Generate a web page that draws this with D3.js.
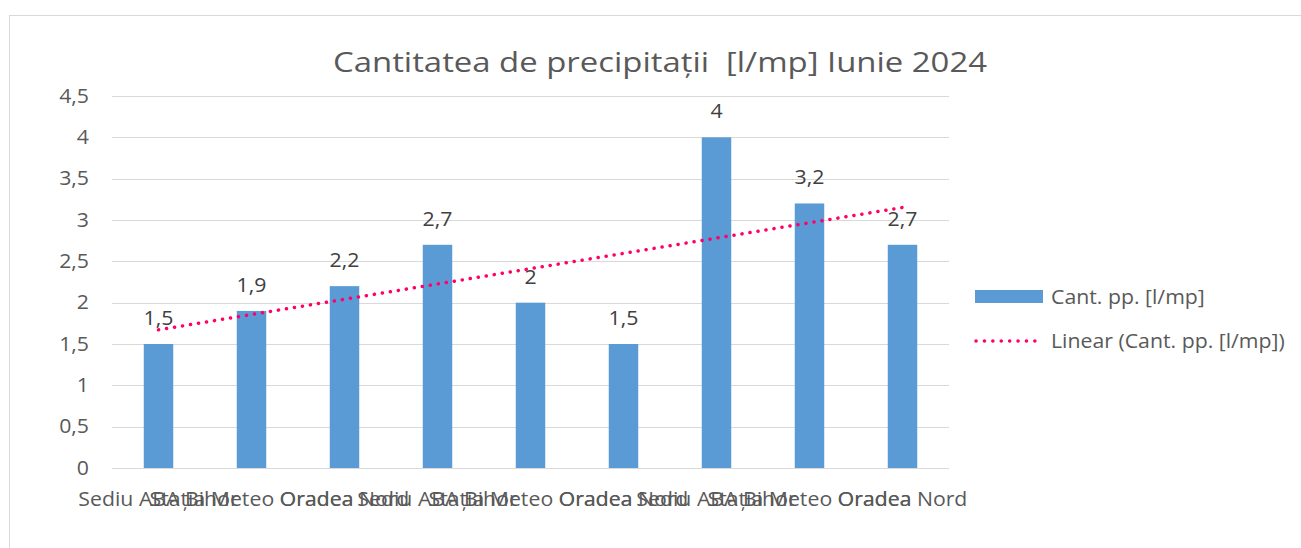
<!DOCTYPE html>
<html>
<head>
<meta charset="utf-8">
<script src="https://cdn.jsdelivr.net/npm/d3@7"></script>
<style>
  body { margin: 0; background: #fff; }
  text { font-family: "Open Sans", sans-serif; fill: #595959; white-space: pre; }
</style>
</head>
<body>
<div id="chart"></div>
<script>
var categories = ['Sediu ABA Bihor', 'Stația Meteo Oradea', 'Oradea Nord',
                  'Sediu ABA Bihor', 'Stația Meteo Oradea', 'Oradea Nord',
                  'Sediu ABA Bihor', 'Stația Meteo Oradea', 'Oradea Nord'];
var values = [1.5, 1.9, 2.2, 2.7, 2, 1.5, 4, 3.2, 2.7];
var yTicks = [0, 0.5, 1, 1.5, 2, 2.5, 3, 3.5, 4, 4.5];
var title = 'Cantitatea de precipitații  [l/mp] Iunie 2024';
var seriesName = 'Cant. pp. [l/mp]';
var trendName = 'Linear (Cant. pp. [l/mp])';

var WIDTH = 1301, HEIGHT = 548;
var BAR_COLOR = '#5B9BD5', TREND_COLOR = '#FF0066', GRID_COLOR = '#D9D9D9';
var FONT = '19.5px', STRETCH = 1.09;

var fmt = function(v){ return String(v).replace('.', ','); };

// the original font runs a bit wider than Open Sans
var widen = function(sel){
  sel.each(function(){
    var w = this.getComputedTextLength();
    d3.select(this).attr('textLength', w * STRETCH).attr('lengthAdjust', 'spacingAndGlyphs');
  });
};

var svg = d3.select('#chart').append('svg')
  .attr('width', WIDTH).attr('height', HEIGHT);

// chart frame
svg.append('rect')
  .attr('x', 9.5).attr('y', 15.5)
  .attr('width', WIDTH).attr('height', HEIGHT)
  .attr('fill', 'none').attr('stroke', GRID_COLOR);

var plot = {left: 112, right: 949, top: 96, bottom: 468};

var x = d3.scaleBand()
  .domain(d3.range(categories.length))
  .range([plot.left, plot.right])
  .paddingInner(0.683).paddingOuter(0.683 / 2);

var y = d3.scaleLinear().domain([0, 4.5]).range([plot.bottom, plot.top]);

// grid
svg.selectAll('.grid').data(yTicks).enter()
  .append('line')
  .attr('class', 'grid')
  .attr('x1', plot.left).attr('x2', plot.right)
  .attr('y1', function(d){ return Math.round(y(d)) + 0.5; })
  .attr('y2', function(d){ return Math.round(y(d)) + 0.5; })
  .attr('stroke', GRID_COLOR).attr('stroke-width', 1);

// y labels
svg.selectAll('.ylab').data(yTicks).enter()
  .append('text')
  .attr('class', 'ylab')
  .attr('x', 89).attr('y', function(d){ return y(d); })
  .attr('dy', '0.35em')
  .attr('text-anchor', 'end')
  .style('font-size', FONT)
  .text(fmt)
  .call(widen);

// bars
svg.selectAll('.bar').data(values).enter()
  .append('rect')
  .attr('class', 'bar')
  .attr('x', function(d, i){ return x(i); })
  .attr('width', x.bandwidth())
  .attr('y', function(d){ return y(d); })
  .attr('height', function(d){ return y(0) - y(d); })
  .attr('fill', BAR_COLOR);

// x labels (they overlap in the original too)
svg.selectAll('.xlab').data(categories).enter()
  .append('text')
  .attr('class', 'xlab')
  .attr('x', function(d, i){ return x(i) + x.bandwidth() / 2; })
  .attr('y', 506)
  .attr('text-anchor', 'middle')
  .style('font-size', FONT)
  .text(function(d){ return d; })
  .call(widen);

// data labels
svg.selectAll('.vlab').data(values).enter()
  .append('text')
  .attr('class', 'vlab')
  .attr('x', function(d, i){ return x(i) + x.bandwidth() / 2; })
  .attr('y', function(d){ return y(d) - 19; })
  .attr('text-anchor', 'middle')
  .style('font-size', FONT)
  .style('fill', '#404040')
  .text(fmt)
  .call(widen);

// linear trend (least squares over 1..n)
var n = values.length;
var xs = d3.range(1, n + 1);
var mx = d3.mean(xs), my = d3.mean(values);
var slope = d3.sum(xs, function(v, i){ return (v - mx) * (values[i] - my); }) /
            d3.sum(xs, function(v){ return (v - mx) * (v - mx); });
var icpt = my - slope * mx;
var trendPts = [0, n - 1].map(function(i){
  return [x(i) + x.bandwidth() / 2, y(icpt + slope * (i + 1))];
});

svg.append('path')
  .attr('d', d3.line()(trendPts))
  .attr('fill', 'none')
  .attr('stroke', TREND_COLOR)
  .attr('stroke-width', 3.5)
  .attr('stroke-linecap', 'round')
  .attr('stroke-dasharray', '0.1 8');

// title
svg.append('text')
  .attr('x', 660).attr('y', 72)
  .attr('text-anchor', 'middle')
  .attr('textLength', 654).attr('lengthAdjust', 'spacingAndGlyphs')
  .style('font-size', '27px')
  .text(title);

// legend
var legend = svg.append('g');
legend.append('rect')
  .attr('x', 975).attr('y', 290).attr('width', 68).attr('height', 13)
  .attr('fill', BAR_COLOR);
legend.append('text')
  .attr('x', 1051).attr('y', 297).attr('dy', '0.35em')
  .style('font-size', FONT)
  .text(seriesName)
  .call(widen);
legend.append('line')
  .attr('x1', 976).attr('x2', 1043).attr('y1', 341).attr('y2', 341)
  .attr('stroke', TREND_COLOR)
  .attr('stroke-width', 3.5)
  .attr('stroke-linecap', 'round')
  .attr('stroke-dasharray', '0.1 8.3');
legend.append('text')
  .attr('x', 1051).attr('y', 341).attr('dy', '0.35em')
  .style('font-size', FONT)
  .text(trendName)
  .call(widen);
</script>
</body>
</html>
